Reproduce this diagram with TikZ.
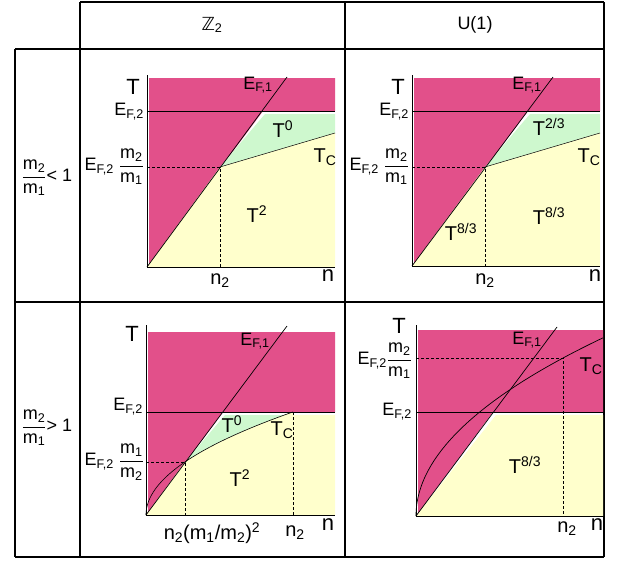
\documentclass[tikz,border=0pt]{standalone}
\usepackage{fontspec}
\setmainfont{Liberation Sans}
\newfontfamily\dsfont{DejaVu Sans}
\definecolor{pinkc}{RGB}{226,80,138}
\definecolor{yelc}{RGB}{255,255,204}
\definecolor{grnc}{RGB}{206,248,206}
\newcommand{\Esub}[1]{E\textsubscript{F,#1}}
\newcommand{\mfrac}[2]{$\displaystyle\frac{\mbox{m\textsubscript{#1}}}{\mbox{m\textsubscript{#2}}}$}
\begin{document}
\begin{tikzpicture}[x=1pt,y=-1pt,
  lbl/.style={font=\fontsize{18}{20}\selectfont, inner sep=1pt},
  reg/.style={font=\fontsize{20}{22}\selectfont, inner sep=1pt},
  big/.style={font=\fontsize{22}{24}\selectfont, inner sep=1pt},
  grid/.style={line width=1.3pt},
  ax/.style={line width=0.8pt},
  ln/.style={line width=0.7pt},
  dsh/.style={line width=0.7pt, dash pattern=on 3pt off 2pt}]
\useasboundingbox (0,0) rectangle (633,562);
% table
\draw[grid] (80,2) -- (604,2);
\draw[grid] (15,49) -- (604,49);
\draw[grid] (15,302) -- (604,302);
\draw[grid] (15,557) -- (604,557);
\draw[grid] (15,49) -- (15,557);
\draw[grid] (80,2) -- (80,557);
\draw[grid] (345,2) -- (345,557);
\draw[grid] (604,2) -- (604,557);
\node[lbl] (hz) at (212,25) {{\dsfont ℤ}\textsubscript{2}};
\node[lbl] (hu) at (475,25) {U(1)};
\node[lbl] (r1) at (47,178) {\mfrac{2}{1}< 1};
\node[lbl] (r2) at (47,428) {\mfrac{2}{1}> 1};

% ---------- panel A ----------
\coordinate (A0) at (147,267);
\coordinate (A1) at (263,111);
\coordinate (A2) at (220,167);
\coordinate (A3) at (335,133);
\fill[pinkc] (149,78) -- (335,78) -- (335,111) -- (A1) -- (A0) -- (149,265) -- cycle;
\fill[grnc] (A2) -- (265,114) -- (335,114) -- (A3) -- cycle;
\fill[yelc] (A0) -- (A2) -- (A3) -- (335,267) -- cycle;
\draw[ax] (147,75) -- (A0) -- (335,267);
\draw[ln] (147,111) -- (335,111);
\draw[ln] (A0) -- (287,77);
\draw[dsh] (147,167) -- (A2) -- (220,267);
\draw[line width=0.5pt] (A2) -- (A3);
\node[big] (aT) at (133,87) {T};
\node[lbl,anchor=east] (aE2) at (145,112) {\Esub{2}};
\node[lbl] (aE1) at (258,85) {\Esub{1}};
\node[reg] (aT0) at (283,129) {T\textsuperscript{0}};
\node[reg] (aTc) at (325,157) {T\textsubscript{C}};
\node[lbl,anchor=east] (aEm) at (145,167) {\Esub{2} \mfrac{2}{1}};
\node[reg] (aT2) at (257,214) {T\textsuperscript{2}};
\node[reg] (an2) at (220,281) {n\textsubscript{2}};
\node[big] (an) at (328,276) {n};

% ---------- panel B ----------
\coordinate (B0) at (412,266);
\coordinate (B1) at (528,111);
\coordinate (B2) at (485,167);
\coordinate (B3) at (600,133);
\fill[pinkc] (414,78) -- (600,78) -- (600,111) -- (B1) -- (B0) -- (414,264) -- cycle;
\fill[grnc] (B2) -- (530,114) -- (600,114) -- (B3) -- cycle;
\fill[yelc] (B0) -- (B2) -- (B3) -- (600,266) -- cycle;
\draw[ax] (412,75) -- (B0) -- (600,266);
\draw[ln] (412,111) -- (600,111);
\draw[ln] (B0) -- (553,77);
\draw[dsh] (412,167) -- (B2) -- (485,266);
\draw[line width=0.5pt] (B2) -- (B3);
\node[big] (bT) at (398,87) {T};
\node[lbl,anchor=east] (bE2) at (410,112) {\Esub{2}};
\node[lbl] (bE1) at (527,85) {\Esub{1}};
\node[reg] (bT0) at (549,127) {T\textsuperscript{2/3}};
\node[reg] (bTc) at (589,157) {T\textsubscript{C}};
\node[lbl,anchor=east] (bEm) at (410,167) {\Esub{2} \mfrac{2}{1}};
\node[reg] (bT8a) at (461,232) {T\textsuperscript{8/3}};
\node[reg] (bT8b) at (549,216) {T\textsuperscript{8/3}};
\node[reg] (bn2) at (485,281) {n\textsubscript{2}};
\node[big] (bn) at (595,276) {n};

% ---------- panel C ----------
\coordinate (C0) at (146,515);
\coordinate (C1) at (223,412);
\coordinate (C2) at (185,462);
\coordinate (C3) at (293,412);
\fill[pinkc] (148,332) -- (335,332) -- (335,412) -- (C1) -- (C0) -- (148,513) -- cycle;
\fill[grnc] (C2) -- (225,415) -- (288,415) -- plot[domain=11.95:6.245,samples=30] ({146+\x*\x},{515-8.5*\x}) -- cycle;
\fill[yelc] (C0) -- (C2) -- plot[domain=6.245:12.124,samples=30] ({146+\x*\x},{515-8.5*\x}) -- (293,415) -- (335,415) -- (335,515) -- cycle;
\draw[ax] (146,325) -- (C0) -- (335,515);
\draw[ln] (146,412) -- (335,412);
\draw[ln] (C0) -- (287,326);
\draw[dsh] (146,462) -- (C2) -- (185,515);
\draw[dsh] (C3) -- (293,515);
\draw[line width=0.6pt] plot[domain=0:12.124,samples=60] ({146+\x*\x},{515-8.5*\x});
\node[big] (cT) at (132,334) {T};
\node[lbl,anchor=east] (cE2) at (144,407) {\Esub{2}};
\node[lbl] (cE1) at (255,341) {\Esub{1}};
\node[reg] (cT0) at (232,424) {T\textsuperscript{0}};
\node[reg] (cTc) at (282,430) {T\textsubscript{C}};
\node[lbl,anchor=east] (cEm) at (145,462) {\Esub{2} \mfrac{1}{2}};
\node[reg] (cT2) at (240,478) {T\textsuperscript{2}};
\node[reg] (cn2m) at (212,533) {n\textsubscript{2}(m\textsubscript{1}/m\textsubscript{2})\textsuperscript{2}};
\node[reg] (cn2) at (295,533) {n\textsubscript{2}};
\node[big] (cn) at (328,525) {n};

% ---------- panel D ----------
\coordinate (D0) at (416,516);
\coordinate (D1) at (493,412);
\coordinate (D2) at (563,358);
\fill[pinkc] (418,330) -- (603,330) -- (603,412) -- (D1) -- (D0) -- (418,514) -- cycle;
\fill[yelc] (D0) -- (496,415) -- (603,415) -- (603,516) -- cycle;
\draw[ax] (416,325) -- (D0) -- (605,516);
\draw[ln] (416,412) -- (605,412);
\draw[ln] (D0) -- (557,327);
\draw[dsh] (416,358) -- (D2) -- (563,516);
\draw[line width=0.7pt] plot[domain=0:13.67,samples=70] ({416+\x*\x},{516-13.03*\x});
\node[big] (dT) at (399,326) {T};
\node[lbl,anchor=east] (dEm) at (413,361) {\Esub{2}\mfrac{2}{1}};
\node[lbl,anchor=east] (dE2) at (413,412) {\Esub{2}};
\node[lbl] (dE1) at (527,340) {\Esub{1}};
\node[reg] (dTc) at (591,366) {T\textsubscript{C}};
\node[reg] (dT8) at (525,465) {T\textsuperscript{8/3}};
\node[reg] (dn2) at (567,529) {n\textsubscript{2}};
\node[big] (dn) at (597,525) {n};
\end{tikzpicture}
\end{document}
